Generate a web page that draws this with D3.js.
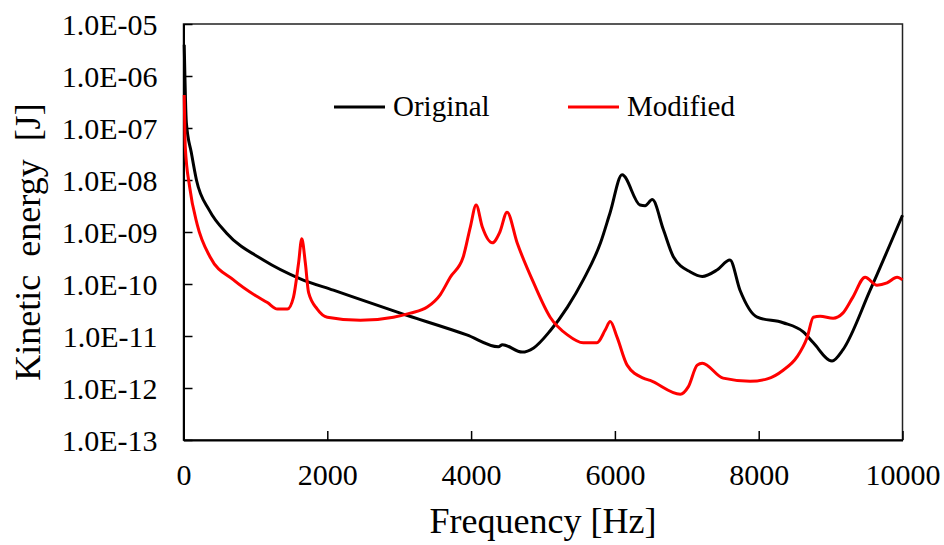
<!DOCTYPE html>
<html>
<head>
<meta charset="utf-8">
<script src="https://cdn.jsdelivr.net/npm/d3@7"></script>
</head>
<body style="margin:0">
<script>
// frequency [Hz] / kinetic energy [J]
var origFreq = [10, 40, 110, 180, 360, 600, 1110, 1625, 2085, 3015, 3940, 4380, 4435, 4710, 4870, 5100, 5340, 5560, 5800, 5935,
  6100, 6350, 6420, 6520, 6675, 6815, 7050, 7215, 7420, 7600, 7740, 7980, 8340, 8620, 8760, 9020, 9170, 9550, 10000];
var origEnergy = [4.0e-6, 1.26e-7, 3.3e-8, 1.0e-8, 2.6e-9, 9.5e-10, 2.9e-10, 1.26e-10, 7.6e-11, 2.75e-11, 1.05e-11, 6.2e-12, 6.8e-12, 4.9e-12, 5.9e-12, 1.26e-11, 3.6e-11, 1.2e-10, 6.2e-10, 2.4e-9,
  1.26e-8, 3.3e-9, 3.2e-9, 4.2e-9, 1.1e-9, 3.3e-10, 1.7e-10, 1.4e-10, 1.86e-10, 2.9e-10, 7.6e-11, 2.3e-11, 1.8e-11, 1.2e-11, 7.4e-12, 3.3e-12, 5.4e-12, 7.6e-11, 2.1e-9];

var modFreq = [10, 25, 85, 190, 370, 695, 1000, 1167, 1306, 1445, 1530, 1600, 1645, 1695, 1740, 1860, 2000, 2460, 2920, 3155, 3390,
  3570, 3710, 3890, 3990, 4070, 4155, 4295, 4400, 4500, 4640, 4870, 5100, 5340, 5560, 5750, 5865, 5935, 6030, 6170, 6395,
  6490, 6910, 7020, 7145, 7215, 7505, 7880, 8120, 8340, 8535, 8675, 8760, 8855, 9035, 9170, 9310, 9480, 9645, 9785, 9925, 10000];
var modEnergy = [4.3e-7, 4.3e-8, 7.4e-9, 1.4e-9, 3.3e-10, 1.2e-10, 6.0e-11, 4.4e-11, 3.3e-11, 3.3e-11, 5.6e-11, 2.5e-10, 7.4e-10, 2.5e-10, 6.8e-11, 3.3e-11, 2.3e-11, 2.0e-11, 2.3e-11, 2.75e-11, 3.6e-11,
  6.2e-11, 1.35e-10, 3.3e-10, 1.26e-9, 3.3e-9, 1.26e-9, 6.2e-10, 1.0e-9, 2.4e-9, 6.2e-10, 1.05e-10, 2.3e-11, 1.05e-11, 7.4e-12, 7.4e-12, 1.3e-11, 1.9e-11, 9.5e-12, 2.75e-12, 1.55e-12,
  1.4e-12, 7.6e-13, 1.05e-12, 2.75e-12, 3.0e-12, 1.55e-12, 1.35e-12, 1.5e-12, 2.2e-12, 4.0e-12, 9.5e-12, 2.3e-11, 2.4e-11, 2.2e-11, 2.75e-11, 5.6e-11, 1.35e-10, 9.5e-11, 1.05e-10, 1.35e-10, 1.2e-10];

var xTicks = [0, 2000, 4000, 6000, 8000, 10000];
var yTicks = [1e-13, 1e-12, 1e-11, 1e-10, 1e-9, 1e-8, 1e-7, 1e-6, 1e-5];
var seriesNames = ["Original", "Modified"];
var seriesColors = ["#000000", "#ff0000"];

(function() {
  var FONT = "Liberation Serif";
  var W = 944, H = 545;
  var m = {left: 183.5, right: 41.5, top: 24, bottom: 105};
  var w = W - m.left - m.right, h = H - m.top - m.bottom;

  var svg = d3.select("body").append("svg")
      .attr("width", W).attr("height", H);

  var x = d3.scaleLinear().domain([0, 10000]).range([0, w]);
  var y = d3.scaleLog().domain([1e-13, 1e-5]).range([h, 0]);

  var g = svg.append("g").attr("transform", "translate(" + m.left + "," + m.top + ")");

  // plot frame
  g.append("rect")
    .attr("x", 0).attr("y", 0).attr("width", w).attr("height", h)
    .attr("fill", "none").attr("stroke", "#222").attr("stroke-width", 1.5);

  function fmtE(v) {
    var e = Math.round(Math.log10(v));
    var s = Math.abs(e) < 10 ? "0" + Math.abs(e) : "" + Math.abs(e);
    return "1.0E" + (e < 0 ? "-" : "+") + s;
  }

  var xAxis = g.append("g").attr("transform", "translate(0," + h + ")")
    .call(d3.axisBottom(x).tickValues(xTicks).tickSizeInner(-9).tickSizeOuter(0).tickPadding(24).tickFormat(d3.format("d")));
  var yAxis = g.append("g")
    .call(d3.axisLeft(y).tickValues(yTicks).tickSizeInner(-9).tickSizeOuter(0).tickPadding(26).tickFormat(fmtE));

  [xAxis, yAxis].forEach(function(a) {
    a.attr("font-family", null).attr("font-size", null);
    a.select(".domain").attr("stroke", "#000").attr("stroke-width", 2);
    a.selectAll(".tick line").attr("stroke", "#000").attr("stroke-width", 1.5);
    a.selectAll(".tick text").attr("font-family", FONT).attr("font-size", 30).attr("fill", "#000");
  });
  xAxis.selectAll(".tick text").attr("dy", "0.71em");
  yAxis.selectAll(".tick text").attr("dy", "0.34em");

  var line = d3.line()
    .x(function(d) { return x(d[0]); })
    .y(function(d) { return y(d[1]); })
    .curve(d3.curveMonotoneX);

  var series = [d3.zip(origFreq, origEnergy), d3.zip(modFreq, modEnergy)];

  g.append("g").selectAll("path").data(series).enter().append("path")
    .attr("d", line)
    .attr("fill", "none")
    .attr("stroke", function(d, i) { return seriesColors[i]; })
    .attr("stroke-width", 3)
    .attr("stroke-linejoin", "round");

  // legend
  var legendX = [334, 568];
  var leg = svg.append("g").selectAll("g").data(seriesNames).enter().append("g")
    .attr("transform", function(d, i) { return "translate(" + legendX[i] + ",107)"; });
  leg.append("line").attr("x1", 0).attr("x2", 51).attr("y1", 0).attr("y2", 0)
    .attr("stroke", function(d, i) { return seriesColors[i]; }).attr("stroke-width", 3);
  leg.append("text").attr("x", 59).attr("y", 9)
    .attr("font-family", FONT).attr("font-size", 29).attr("fill", "#000")
    .text(function(d) { return d; });

  // axis titles
  svg.append("text")
    .attr("x", m.left + w / 2).attr("y", 533)
    .attr("text-anchor", "middle").attr("font-family", FONT).attr("font-size", 36).attr("fill", "#000")
    .text("Frequency [Hz]");
  svg.append("text")
    .attr("transform", "translate(40,242) rotate(-90)")
    .attr("text-anchor", "middle").attr("font-family", FONT).attr("font-size", 36).attr("fill", "#000")
    .attr("xml:space", "preserve")
    .text("Kinetic  energy  [J]");
})();
</script>
</body>
</html>
